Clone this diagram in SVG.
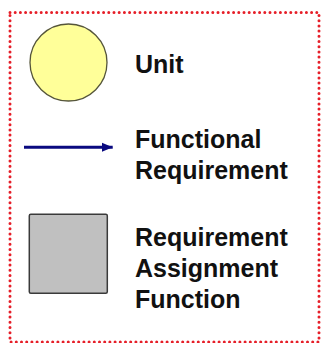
<svg xmlns="http://www.w3.org/2000/svg" width="323" height="343" viewBox="0 0 323 343">
  <style>
    .frame { fill: none; stroke: #e61e28; stroke-width: 3; stroke-linecap: round; stroke-dasharray: 0 5.2; }
    .label { font-family: "Liberation Sans", Arial, sans-serif; font-weight: bold; font-size: 25px; fill: #111; }
  </style>
  <defs>
    <marker id="arrowhead" markerWidth="12" markerHeight="10" refX="11" refY="5" orient="auto" markerUnits="userSpaceOnUse">
      <path d="M0,0.3 L11,5 L0,9.7 Z" fill="#0a0a80"/>
    </marker>
  </defs>
  <rect width="323" height="343" fill="#ffffff"/>
  <rect class="frame" x="10" y="12.5" width="309" height="329.5"/>
  <g id="unit">
    <circle cx="68.5" cy="62.5" r="38.5" fill="#ffff99" stroke="#55553a" stroke-width="1.3"/>
    <text class="label" x="135" y="73">Unit</text>
  </g>
  <g id="connectors">
    <line x1="24" y1="147.3" x2="112.7" y2="147.3" stroke="#0a0a80" stroke-width="3" marker-end="url(#arrowhead)"/>
  </g>
  <g id="functional-requirement">
    <text class="label" x="135" y="147.7">Functional</text>
    <text class="label" x="135" y="179.3">Requirement</text>
  </g>
  <g id="requirement-assignment-function">
    <rect x="29.3" y="214.3" width="78" height="79" rx="1.5" fill="#c0c0c0" stroke="#3a3a3a" stroke-width="1.5"/>
    <text class="label" x="135" y="245.7">Requirement</text>
    <text class="label" x="135" y="277">Assignment</text>
    <text class="label" x="135" y="308.3">Function</text>
  </g>
</svg>
